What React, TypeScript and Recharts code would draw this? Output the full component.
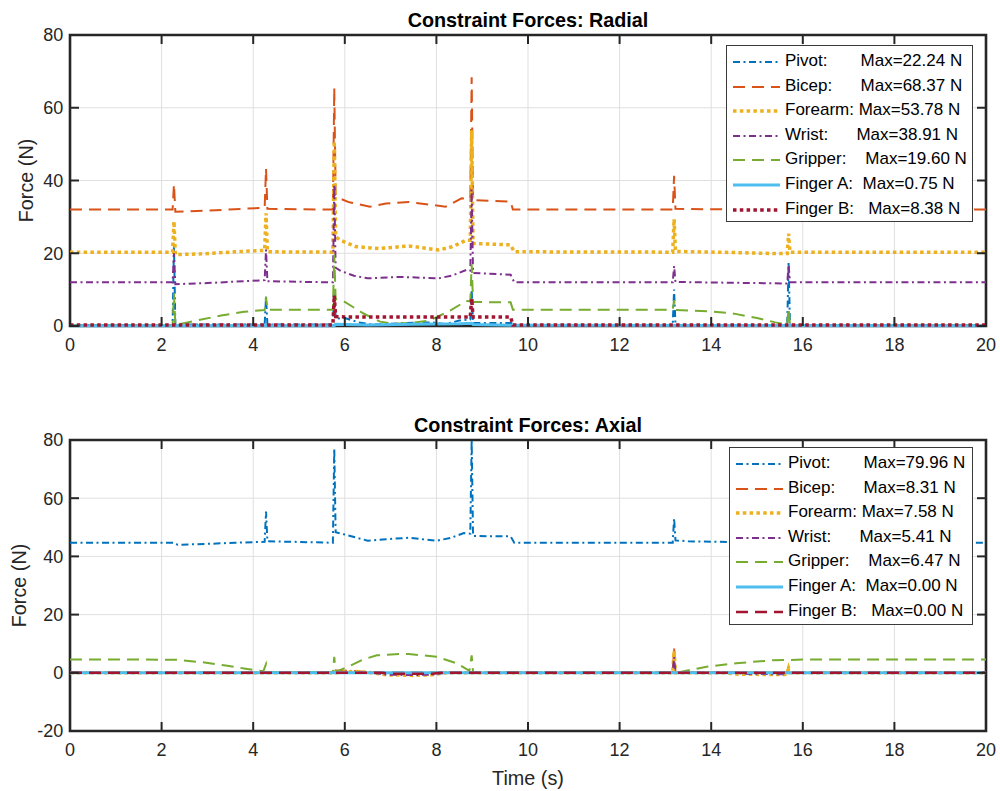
import { LineChart, Line, XAxis, YAxis, Legend, ReferenceArea, ReferenceLine } from 'recharts';

type Pair = [number, number];

const SERIES_NAMES = ['Pivot', 'Bicep', 'Forearm', 'Wrist', 'Gripper', 'Finger A', 'Finger B'];
// legend text is padded with spaces like the original sprintf output
const LEGEND_LABELS = ['Pivot:       ', 'Bicep:      ', 'Forearm: ', 'Wrist:      ', 'Gripper:    ', 'Finger A:  ', 'Finger B:   '];

const RADIAL_MAX = [22.24, 68.37, 53.78, 38.91, 19.6, 0.75, 8.38];
const AXIAL_MAX = [79.96, 8.31, 7.58, 5.41, 6.47, 0.0, 0.0];

const X_TICKS = [0, 2, 4, 6, 8, 10, 12, 14, 16, 18, 20];
const RADIAL_Y_TICKS = [0, 20, 40, 60, 80];
const AXIAL_Y_TICKS = [-20, 0, 20, 40, 60, 80];

// [time (s), force (N)]
const RADIAL_PIVOT: Pair[] = [
  [0, 0.3], [2.24, 0.3], [2.27, 22.24], [2.3, 0.4], [4.25, 0.4], [4.28, 8], [4.31, 0.4],
  [5.74, 0.4], [5.77, 10], [5.8, 2.0], [6.0, 2.2], [6.3, 1.0], [6.6, 0.4], [7.0, 0.6],
  [7.5, 0.9], [7.9, 1.0], [8.2, 0.5], [8.5, 1.5], [8.74, 1.8], [8.77, 10], [8.8, 0.8],
  [9.64, 0.8], [9.67, 0.3], [13.16, 0.3], [13.19, 10], [13.22, 0.3], [15.66, 0.3],
  [15.69, 17.5], [15.72, 0.3], [20, 0.3],
];
const RADIAL_BICEP: Pair[] = [
  [0, 32], [2.24, 32], [2.27, 39], [2.3, 31.4], [3.0, 31.7], [3.6, 32.1], [4.25, 32.5],
  [4.28, 43.3], [4.31, 32.2], [5.74, 32], [5.77, 65.5], [5.8, 36], [5.9, 35], [6.1, 34],
  [6.55, 32.8], [6.9, 33.7], [7.4, 34.1], [7.9, 33.3], [8.2, 32.8], [8.55, 35.1],
  [8.74, 35], [8.77, 68.37], [8.8, 34.6], [9.62, 34.2], [9.67, 32], [13.16, 32],
  [13.19, 41.3], [13.22, 32.2], [15.66, 31.9], [15.69, 32.5], [15.72, 32], [20, 32],
];
const RADIAL_FOREARM: Pair[] = [
  [0, 20.3], [2.24, 20.3], [2.27, 28.8], [2.3, 19.6], [3.0, 19.9], [3.6, 20.4], [4.25, 20.8],
  [4.28, 31], [4.31, 20.4], [5.74, 20.3], [5.77, 50.8], [5.8, 24.5], [5.9, 23.6],
  [6.25, 21.8], [6.75, 21.3], [7.4, 22.0], [8.05, 20.9], [8.35, 21.8], [8.65, 23.6],
  [8.74, 23.6], [8.77, 53.78], [8.8, 22.7], [9.62, 22.3], [9.7, 20.4], [13.16, 20.3],
  [13.19, 29.4], [13.22, 20.5], [14.5, 20.2], [15.4, 19.9], [15.66, 19.9], [15.69, 25.4],
  [15.72, 20.3], [20, 20.3],
];
const RADIAL_WRIST: Pair[] = [
  [0, 12], [2.24, 12], [2.27, 20], [2.3, 11.5], [3.0, 11.8], [3.6, 12.2], [4.25, 12.6],
  [4.28, 21], [4.31, 12.3], [5.74, 12], [5.77, 38.91], [5.8, 16], [5.9, 15.2], [6.2, 13.8],
  [6.5, 13.1], [7.2, 13.5], [8.05, 13.1], [8.35, 13.9], [8.65, 15.4], [8.74, 15.2],
  [8.77, 37.5], [8.8, 14.6], [9.62, 14.1], [9.7, 12], [13.16, 12], [13.19, 16.5],
  [13.22, 12.1], [15.0, 11.8], [15.66, 11.7], [15.69, 16.8], [15.72, 12], [20, 12],
];
const RADIAL_GRIPPER: Pair[] = [
  [0, 0.3], [2.24, 0.3], [2.27, 9], [2.3, 0.3], [2.8, 1.6], [3.3, 2.9], [3.8, 3.9],
  [4.25, 4.4], [4.28, 8], [4.31, 4.5], [5.74, 4.5], [5.77, 19.6], [5.8, 7.4], [6.0, 6.6],
  [6.4, 3.5], [6.77, 1.2], [7.05, 0.6], [7.5, 0.9], [7.85, 1.5], [8.3, 4.2], [8.65, 6.9],
  [8.74, 6.8], [8.77, 17], [8.8, 6.6], [9.62, 6.5], [9.67, 4.5], [13.16, 4.5], [13.19, 7.1],
  [13.22, 4.4], [14.0, 4.0], [14.5, 3.4], [15.0, 2.2], [15.4, 1.0], [15.66, 0.3],
  [15.69, 5], [15.72, 0.3], [20, 0.3],
];
const RADIAL_FINGER_A: Pair[] = [
  [0, 0.1], [5.77, 0.1], [5.8, 0.5], [6.5, 0.3], [7.5, 0.5], [8.5, 0.6], [8.77, 0.75],
  [8.8, 0.4], [9.67, 0.2], [20, 0.1],
];
const RADIAL_FINGER_B: Pair[] = [
  [0, 0.3], [5.74, 0.3], [5.77, 8.38], [5.8, 2.6], [6.0, 2.5], [8.74, 2.5], [8.77, 7.5],
  [8.8, 2.5], [9.62, 2.5], [9.67, 0.3], [20, 0.3],
];

const AXIAL_PIVOT: Pair[] = [
  [0, 44.7], [2.27, 44.7], [2.35, 44.0], [3.0, 44.3], [3.6, 44.7], [4.25, 45.0],
  [4.28, 55.4], [4.31, 45.2], [5.74, 44.7], [5.77, 77.1], [5.8, 48.3], [6.0, 47.5],
  [6.5, 45.4], [6.9, 45.9], [7.4, 46.4], [8.0, 45.4], [8.3, 46.3], [8.6, 48.0],
  [8.74, 47.8], [8.77, 79.96], [8.8, 47.0], [9.62, 46.9], [9.7, 44.7], [13.16, 44.7],
  [13.19, 53.1], [13.22, 45.5], [13.5, 45.2], [14.5, 44.9], [20, 44.7],
];
const AXIAL_BICEP: Pair[] = [
  [0, 0.1], [5.77, 0.1], [5.8, 0.8], [6.2, 0.6], [6.5, 0.2], [13.16, 0.1], [13.19, 8.31],
  [13.22, 0.2], [15.66, 0.1], [15.69, 2.3], [15.72, 0.1], [20, 0.1],
];
const AXIAL_FOREARM: Pair[] = [
  [0, 0], [5.77, 0], [6.2, 0.5], [6.6, 0], [6.9, -0.7], [7.5, -0.9], [7.9, -0.7], [8.2, 0],
  [13.16, 0], [13.19, 7.58], [13.22, 0], [14.3, 0], [14.6, -0.5], [15.6, -0.6],
  [15.66, -0.3], [15.69, 1.5], [15.72, 0], [20, 0],
];
const AXIAL_WRIST: Pair[] = [
  [0, 0], [6.6, 0], [6.9, -0.6], [7.5, -0.8], [7.9, -0.6], [8.2, 0], [13.16, 0],
  [13.19, 5.41], [13.22, 0], [14.5, 0], [14.8, -0.4], [15.6, -0.5], [15.69, 0], [20, 0],
];
const AXIAL_GRIPPER: Pair[] = [
  [0, 4.6], [2.3, 4.5], [2.9, 3.6], [3.4, 2.5], [3.8, 1.5], [4.22, 0.5], [4.28, 3.0],
  [4.31, 0.2], [5.74, 0.2], [5.77, 5.5], [5.8, 0.3], [6.1, 2.3], [6.4, 4.6], [6.7, 6.0],
  [7.1, 6.4], [7.4, 6.47], [8.0, 5.5], [8.44, 3.3], [8.72, 0.7], [8.77, 6], [8.8, 0.2],
  [13.3, 0.2], [13.9, 2.1], [14.55, 3.3], [15.35, 4.3], [16.2, 4.6], [20, 4.6],
];
const AXIAL_FINGER_A: Pair[] = [[0, 0], [20, 0]];
const AXIAL_FINGER_B: Pair[] = [[0, 0], [6.8, 0], [7.0, -0.3], [7.9, -0.3], [8.1, 0], [20, 0]];

const RADIAL_SERIES = [RADIAL_PIVOT, RADIAL_BICEP, RADIAL_FOREARM, RADIAL_WRIST, RADIAL_GRIPPER, RADIAL_FINGER_A, RADIAL_FINGER_B];
const AXIAL_SERIES = [AXIAL_PIVOT, AXIAL_BICEP, AXIAL_FOREARM, AXIAL_WRIST, AXIAL_GRIPPER, AXIAL_FINGER_A, AXIAL_FINGER_B];

// MATLAB default line colors
const COLORS = ['#0072BD', '#D95319', '#EDB120', '#7E2F8E', '#77AC30', '#4DBEEE', '#A2142F'];
const FONT = '"Liberation Sans", Arial, Helvetica, sans-serif';
const AXIS_COLOR = '#262626';
const GRID_COLOR = '#dfdfdf';
const TICK_LEN = 9;

interface LineStyle {
  dash?: string;
  width: number;
}

const DASH_DOT = '7 3.5 2 3.5';
const DASHED = '12 7';
const DOTTED = '3.5 3.3';

const RADIAL_STYLES: LineStyle[] = [
  { dash: DASH_DOT, width: 2 },
  { dash: DASHED, width: 2 },
  { dash: DOTTED, width: 3.5 },
  { dash: DASH_DOT, width: 2 },
  { dash: DASHED, width: 2 },
  { width: 3 },
  { dash: DOTTED, width: 3.5 },
];
const AXIAL_STYLES: LineStyle[] = [...RADIAL_STYLES.slice(0, 6), { dash: DASHED, width: 2.5 }];

const toPoints = (pairs: Pair[]) => pairs.map(([t, v]) => ({ t, v }));

// the axes get tickSize/tickMargin 0 so (x, y) sits on the axis line;
// the inward MATLAB-style tick mark is drawn here
function BottomTick(props: any) {
  const { x, y, payload } = props;
  return (
    <g>
      <line x1={x} y1={y} x2={x} y2={y - TICK_LEN} stroke={AXIS_COLOR} strokeWidth={2} />
      <text x={x} y={y + 25.3} textAnchor="middle" fontSize={18} fill={AXIS_COLOR} fontFamily={FONT}>
        {payload.value}
      </text>
    </g>
  );
}

function TopTick(props: any) {
  const { x, y } = props;
  return <line x1={x} y1={y} x2={x} y2={y + TICK_LEN} stroke={AXIS_COLOR} strokeWidth={2} />;
}

function LeftTick(props: any) {
  const { x, y, payload } = props;
  return (
    <g>
      <line x1={x} y1={y} x2={x + TICK_LEN} y2={y} stroke={AXIS_COLOR} strokeWidth={2} />
      <text x={x - 6.7} y={y + 6.4} textAnchor="end" fontSize={18} fill={AXIS_COLOR} fontFamily={FONT}>
        {payload.value}
      </text>
    </g>
  );
}

function RightTick(props: any) {
  const { x, y } = props;
  return <line x1={x} y1={y} x2={x - TICK_LEN} y2={y} stroke={AXIS_COLOR} strokeWidth={2} />;
}

function LegendBox({ styles, maxes, width, height }: { styles: LineStyle[]; maxes: number[]; width: number; height: number }) {
  return (
    <div
      style={{
        width,
        height,
        boxSizing: 'border-box',
        background: '#fff',
        border: '1px solid #3a3a3a',
        paddingTop: 3,
        fontFamily: FONT,
        fontSize: 17,
        color: '#000',
      }}
    >
      {SERIES_NAMES.map((name, i) => (
        <div key={name} style={{ display: 'flex', alignItems: 'center', height: 24.55 }}>
          <svg width={47} height={12} style={{ marginLeft: 6, marginRight: 5, flex: 'none' }}>
            <line
              x1={0}
              y1={7}
              x2={47}
              y2={7}
              stroke={COLORS[i]}
              strokeWidth={styles[i].width}
              strokeDasharray={styles[i].dash}
            />
          </svg>
          <span style={{ whiteSpace: 'pre' }}>{`${LEGEND_LABELS[i]}Max=${maxes[i].toFixed(2)} N`}</span>
        </div>
      ))}
    </div>
  );
}

const yLabel = (baselineX: number) => (props: any) => {
  const vb = props.viewBox || {};
  const cy = vb.y + vb.height / 2;
  return (
    <text
      x={baselineX}
      y={cy}
      transform={`rotate(-90, ${baselineX}, ${cy})`}
      textAnchor="middle"
      fontSize={19.8}
      fill={AXIS_COLOR}
      fontFamily={FONT}
    >
      Force (N)
    </text>
  );
};

interface PanelProps {
  title: string;
  series: Pair[][];
  styles: LineStyle[];
  maxes: number[];
  yDomain: [number, number];
  yTicks: number[];
  height: number;
  marginTop: number;
  marginBottom: number;
  labelX: number;
  legend: { left: number; top: number; width: number; height: number };
  xLabel?: string;
}

function Panel({ title, series, styles, maxes, yDomain, yTicks, height, marginTop, marginBottom, labelX, legend, xLabel }: PanelProps) {
  // inner grid lines only; the box itself is the ReferenceArea outline
  const gridX = X_TICKS.slice(1, -1);
  const gridY = yTicks.slice(1, -1);

  return (
    <LineChart width={1000} height={height} margin={{ top: marginTop, right: 13, bottom: marginBottom, left: 0 }}>
      {gridX.map((t) => (
        <ReferenceLine key={`gx${t}`} x={t} stroke={GRID_COLOR} strokeWidth={1} />
      ))}
      {gridY.map((v) => (
        <ReferenceLine key={`gy${v}`} y={v} stroke={GRID_COLOR} strokeWidth={1} />
      ))}
      {series.map((pairs, i) => (
        <Line
          key={SERIES_NAMES[i]}
          data={toPoints(pairs)}
          dataKey="v"
          name={SERIES_NAMES[i]}
          type="linear"
          stroke={COLORS[i]}
          strokeWidth={styles[i].width}
          strokeDasharray={styles[i].dash}
          dot={false}
          activeDot={false}
          isAnimationActive={false}
        />
      ))}
      <ReferenceArea x1={0} x2={20} y1={yDomain[0]} y2={yDomain[1]} fill="none" stroke={AXIS_COLOR} strokeWidth={2.6} />
      <XAxis
        dataKey="t"
        type="number"
        domain={[0, 20]}
        ticks={X_TICKS}
        interval={0}
        height={40}
        tickSize={0}
        tickMargin={0}
        axisLine={false}
        tickLine={false}
        tick={<BottomTick />}
        label={xLabel ? { value: xLabel, position: 'bottom', offset: 0, fontSize: 19.8, fill: AXIS_COLOR, fontFamily: FONT } : undefined}
      />
      <XAxis
        xAxisId="top"
        orientation="top"
        dataKey="t"
        type="number"
        domain={[0, 20]}
        allowDataOverflow
        ticks={X_TICKS}
        interval={0}
        height={1}
        tickSize={0}
        tickMargin={0}
        axisLine={false}
        tickLine={false}
        tick={<TopTick />}
        label={{ value: title, position: 'top', offset: 7, fontSize: 19.8, fontWeight: 700, fill: '#000', fontFamily: FONT }}
      />
      <YAxis
        type="number"
        domain={yDomain}
        ticks={yTicks}
        interval={0}
        width={70}
        tickSize={0}
        tickMargin={0}
        axisLine={false}
        tickLine={false}
        tick={<LeftTick />}
        label={yLabel(labelX)}
      />
      <YAxis
        yAxisId="right"
        orientation="right"
        type="number"
        domain={yDomain}
        allowDataOverflow
        ticks={yTicks}
        interval={0}
        width={1}
        tickSize={0}
        tickMargin={0}
        axisLine={false}
        tickLine={false}
        tick={<RightTick />}
      />
      <Legend
        layout="horizontal"
        verticalAlign="middle"
        align="center"
        wrapperStyle={{ left: legend.left, top: legend.top, width: legend.width, height: legend.height }}
        content={() => <LegendBox styles={styles} maxes={maxes} width={legend.width} height={legend.height} />}
      />
    </LineChart>
  );
}

export default function App() {
  return (
    <div style={{ position: 'absolute', left: 0, top: 0, width: 1000, height: 791, background: '#fff', fontFamily: FONT }}>
      <Panel
        title="Constraint Forces: Radial"
        series={RADIAL_SERIES}
        styles={RADIAL_STYLES}
        maxes={RADIAL_MAX}
        yDomain={[0, 80]}
        yTicks={RADIAL_Y_TICKS}
        height={395}
        marginTop={34}
        marginBottom={29}
        labelX={32.5}
        legend={{ left: 726, top: 45, width: 247, height: 177 }}
      />
      <Panel
        title="Constraint Forces: Axial"
        series={AXIAL_SERIES}
        styles={AXIAL_STYLES}
        maxes={AXIAL_MAX}
        yDomain={[-20, 80]}
        yTicks={AXIAL_Y_TICKS}
        height={396}
        marginTop={44}
        marginBottom={20}
        labelX={26}
        legend={{ left: 729, top: 52, width: 244, height: 178 }}
        xLabel="Time (s)"
      />
    </div>
  );
}
